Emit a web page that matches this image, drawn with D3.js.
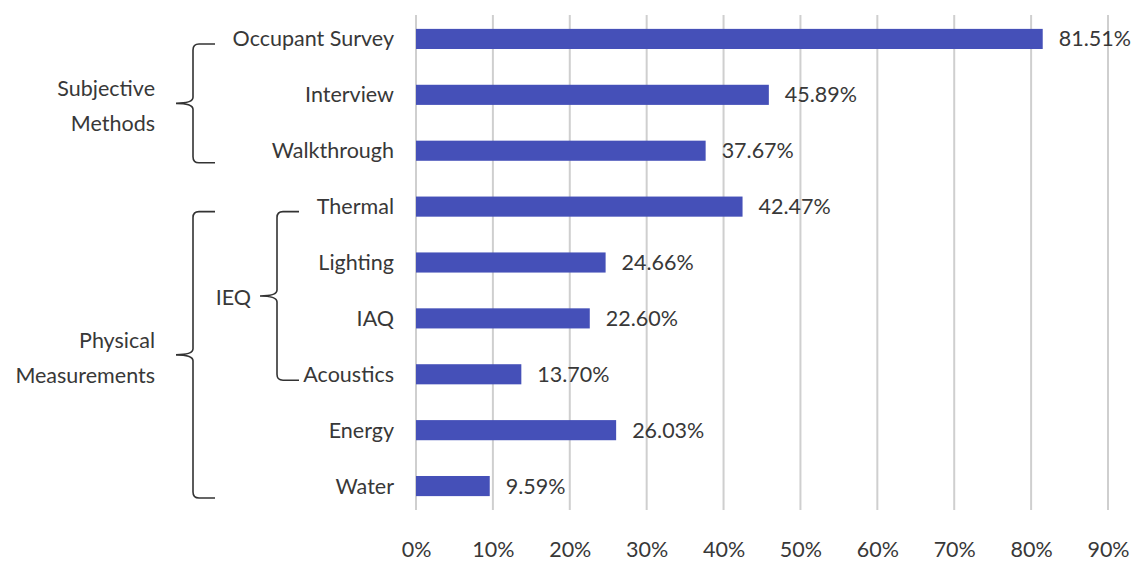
<!DOCTYPE html>
<html>
    <head>
        <title>Evaluation methods</title>
        <style>
            body { margin: 0; background: #fff; }
            text { font-family: Lato, "Open Sans", sans-serif; fill: #383838; }
        </style>
    </head>

    <body>
        <div id="chart"></div>

        <script src="https://cdn.jsdelivr.net/npm/d3@7/dist/d3.min.js"></script>
        <script>
            var categories = ["Occupant Survey", "Interview", "Walkthrough", "Thermal", "Lighting", "IAQ", "Acoustics", "Energy", "Water"];
            var values = [81.51, 45.89, 37.67, 42.47, 24.66, 22.60, 13.70, 26.03, 9.59];
            var ticks = [0, 10, 20, 30, 40, 50, 60, 70, 80, 90];

            // group brackets: label lines, first and last category, nesting level
            var groups = [
                { lines: ["Subjective", "Methods"], from: "Occupant Survey", to: "Walkthrough", level: 0 },
                { lines: ["Physical", "Measurements"], from: "Thermal", to: "Water", level: 0 },
                { lines: ["IEQ"], from: "Thermal", to: "Acoustics", level: 1 }
            ];

            var w = 1144, h = 565;
            var plotLeft = 416, plotRight = 1108, plotTop = 11, plotBottom = 514;
            var fontSize = "21.5px";

            var svg = d3.select("#chart").append("svg")
                .attr("width", w)
                .attr("height", h);

            var x = d3.scaleLinear().domain([0, 90]).range([plotLeft, plotRight]);
            var y = d3.scaleBand().domain(categories).range([plotTop, plotBottom]).paddingInner(0.64).paddingOuter(0.32);

            // gridlines
            svg.selectAll(".grid")
                .data(ticks)
                .enter().append("line")
                    .attr("class", "grid")
                    .attr("x1", function(d) { return x(d); })
                    .attr("x2", function(d) { return x(d); })
                    .attr("y1", plotTop + 4)
                    .attr("y2", plotBottom - 4)
                    .style("stroke", "#cfcfcf")
                    .style("stroke-width", 2);

            // x axis labels
            var xAxis = d3.axisBottom(x).tickValues(ticks).tickSize(0).tickPadding(0)
                .tickFormat(function(d) { return d + "%"; });
            var gx = svg.append("g").attr("transform", "translate(0," + (plotBottom + 28) + ")").call(xAxis);
            gx.select(".domain").remove();
            gx.selectAll("text").style("font-size", fontSize).style("font-family", "Lato, sans-serif").style("fill", "#383838");

            // bars
            svg.selectAll(".bar")
                .data(values)
                .enter().append("rect")
                    .attr("class", "bar")
                    .attr("x", x(0))
                    .attr("y", function(d, i) { return y(categories[i]); })
                    .attr("width", function(d) { return x(d) - x(0); })
                    .attr("height", y.bandwidth())
                    .style("fill", "#4550b8");

            // value labels
            svg.selectAll(".value-label")
                .data(values)
                .enter().append("text")
                    .attr("class", "value-label")
                    .text(function(d) { return d.toFixed(2) + "%"; })
                    .attr("x", function(d) { return x(d) + 16; })
                    .attr("y", function(d, i) { return y(categories[i]) + y.bandwidth() / 2; })
                    .attr("dy", "0.35em")
                    .style("font-size", fontSize);

            // category labels
            svg.selectAll(".cat-label")
                .data(categories)
                .enter().append("text")
                    .attr("class", "cat-label")
                    .text(function(d) { return d; })
                    .attr("x", 394)
                    .attr("y", function(d) { return y(d) + y.bandwidth() / 2; })
                    .attr("dy", "0.35em")
                    .attr("text-anchor", "end")
                    .style("font-size", fontSize);

            // curly bracket path: vertical at bx, from y0 to y1, tip pointing left
            function brace(bx, y0, y1, hook, tip) {
                var m = (y0 + y1) / 2, r = 6;
                return "M" + (bx + hook) + "," + y0 +
                    "L" + (bx + r) + "," + y0 +
                    "Q" + bx + "," + y0 + " " + bx + "," + (y0 + r) +
                    "L" + bx + "," + (m - r) +
                    "Q" + bx + "," + m + " " + (bx - tip) + "," + m +
                    "Q" + bx + "," + m + " " + bx + "," + (m + r) +
                    "L" + bx + "," + (y1 - r) +
                    "Q" + bx + "," + y1 + " " + (bx + r) + "," + y1 +
                    "L" + (bx + hook) + "," + y1;
            }

            groups.forEach(function(g) {
                var bx = g.level === 0 ? 193 : 277;
                var y0 = y(g.from) + y.bandwidth() / 2 + 5;
                var y1 = y(g.to) + y.bandwidth() / 2 + (g.level === 0 ? 12 : 6);
                svg.append("path")
                    .attr("d", brace(bx, y0, y1, 22, 17))
                    .style("fill", "none")
                    .style("stroke", "#333")
                    .style("stroke-width", 1.6);

                var m = (y0 + y1) / 2;
                var lx = g.level === 0 ? 155 : 251;
                var lineH = 35;
                g.lines.forEach(function(t, i) {
                    svg.append("text")
                        .text(t)
                        .attr("x", lx)
                        .attr("y", m + (i - (g.lines.length - 1) / 2) * lineH + (g.level === 0 ? 3 : 2))
                        .attr("dy", "0.35em")
                        .attr("text-anchor", "end")
                        .style("font-size", fontSize);
                });
            });
        </script>
    </body>
</html>
